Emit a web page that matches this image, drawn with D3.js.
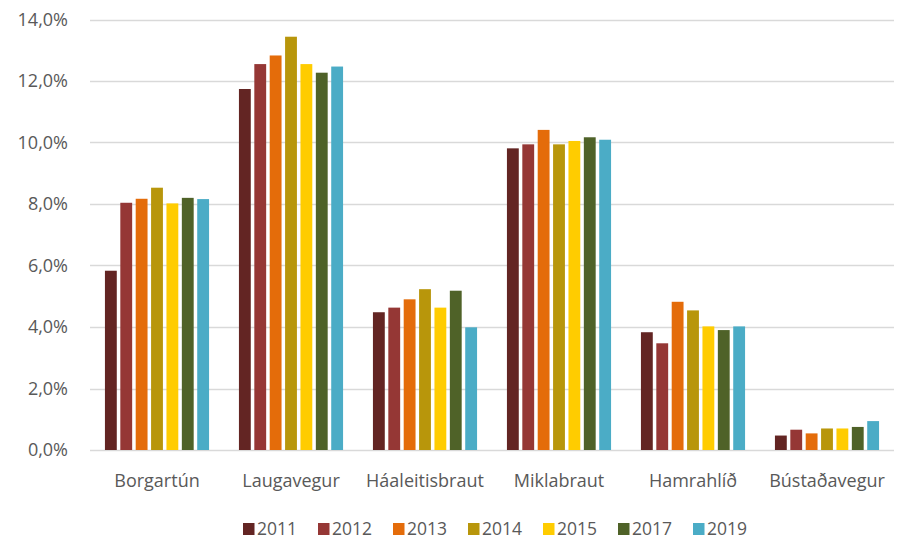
<!DOCTYPE html>
<html>
<head>
<meta charset="utf-8">
<script src="https://cdn.jsdelivr.net/npm/d3@7"></script>
<style>
  html, body { margin: 0; padding: 0; background: #fff; }
  svg text { font-family: "Open Sans", "Liberation Sans", sans-serif; fill: #595959; }
</style>
</head>
<body>
<svg id="chart" width="897" height="540"></svg>
<script>
// Share of traffic by street and year
const categories = ["Borgartún", "Laugavegur", "Háaleitisbraut", "Miklabraut", "Hamrahlíð", "Bústaðavegur"];
const years = ["2011", "2012", "2013", "2014", "2015", "2017", "2019"];
const values2011 = [5.83, 11.74, 4.48, 9.81, 3.83, 0.47];
const values2012 = [8.04, 12.55, 4.63, 9.94, 3.47, 0.66];
const values2013 = [8.17, 12.83, 4.90, 10.41, 4.82, 0.54];
const values2014 = [8.53, 13.44, 5.23, 9.94, 4.54, 0.70];
const values2015 = [8.02, 12.55, 4.63, 10.05, 4.02, 0.70];
const values2017 = [8.20, 12.27, 5.18, 10.17, 3.90, 0.75];
const values2019 = [8.16, 12.47, 3.99, 10.09, 4.02, 0.94];
const yTicks = [0, 2, 4, 6, 8, 10, 12, 14];
const colors = ["#632523", "#953735", "#E46C0A", "#B8960B", "#FFCC00", "#4F6228", "#4BACC6"];

const series = [values2011, values2012, values2013, values2014, values2015, values2017, values2019];

const svg = d3.select("#chart");
const plotLeft = 90, plotRight = 894, plotTop = 19.5, plotBottom = 450;
const fontSize = 18;

const x0 = d3.scaleBand().domain(categories).range([plotLeft, plotRight]).padding(0);
const bw = x0.bandwidth();
const x1 = d3.scaleBand().domain(years).range([bw * 0.1, bw * 0.9]).paddingInner(0.23).paddingOuter(0.1);
const y = d3.scaleLinear().domain([0, 14]).range([plotBottom, plotTop]);
const color = d3.scaleOrdinal().domain(years).range(colors);

const fmt = v => d3.format(".1f")(v).replace(".", ",") + "%";

// Gridlines
svg.append("g")
  .selectAll("line")
  .data(yTicks)
  .join("line")
  .attr("x1", plotLeft).attr("x2", plotRight)
  .attr("y1", d => Math.round(y(d)) + 0.5)
  .attr("y2", d => Math.round(y(d)) + 0.5)
  .attr("stroke", "#D9D9D9")
  .attr("stroke-width", 1.3);

// Y axis labels
const yAxis = d3.axisLeft(y).tickValues(yTicks).tickFormat(fmt).tickSize(0).tickPadding(0);
const ya = svg.append("g").attr("transform", `translate(${plotLeft - 22},0)`).call(yAxis);
ya.select(".domain").remove();
ya.selectAll("text").attr("font-size", fontSize).attr("fill", "#595959")
  .style("font-family", "\"Open Sans\", sans-serif");

// Bars
const groups = svg.append("g")
  .selectAll("g")
  .data(categories)
  .join("g")
  .attr("transform", d => `translate(${x0(d)},0)`);

groups.selectAll("rect")
  .data((c, ci) => years.map((yr, yi) => ({ year: yr, value: series[yi][ci] })))
  .join("rect")
  .attr("x", d => x1(d.year))
  .attr("width", x1.bandwidth())
  .attr("y", d => y(d.value))
  .attr("height", d => y(0) - y(d.value))
  .attr("fill", d => color(d.year));

// X axis labels
const xAxis = d3.axisBottom(x0).tickSize(0).tickPadding(0);
const xa = svg.append("g").attr("transform", `translate(0,${plotBottom + 37})`).call(xAxis);
xa.select(".domain").remove();
xa.selectAll("text").attr("font-size", fontSize).attr("fill", "#595959")
  .attr("y", 0).attr("dy", 0)
  .style("font-family", "\"Open Sans\", sans-serif");

// Legend
const legendX = d3.scalePoint().domain(years).range([243, 693]);
const leg = svg.append("g")
  .selectAll("g")
  .data(years)
  .join("g")
  .attr("transform", d => `translate(${legendX(d)},523)`);
leg.append("rect").attr("width", 11.5).attr("height", 12).attr("fill", d => color(d));
leg.append("text").attr("x", 14).attr("y", 11.5).attr("font-size", 17.5).text(d => d);
</script>
</body>
</html>
